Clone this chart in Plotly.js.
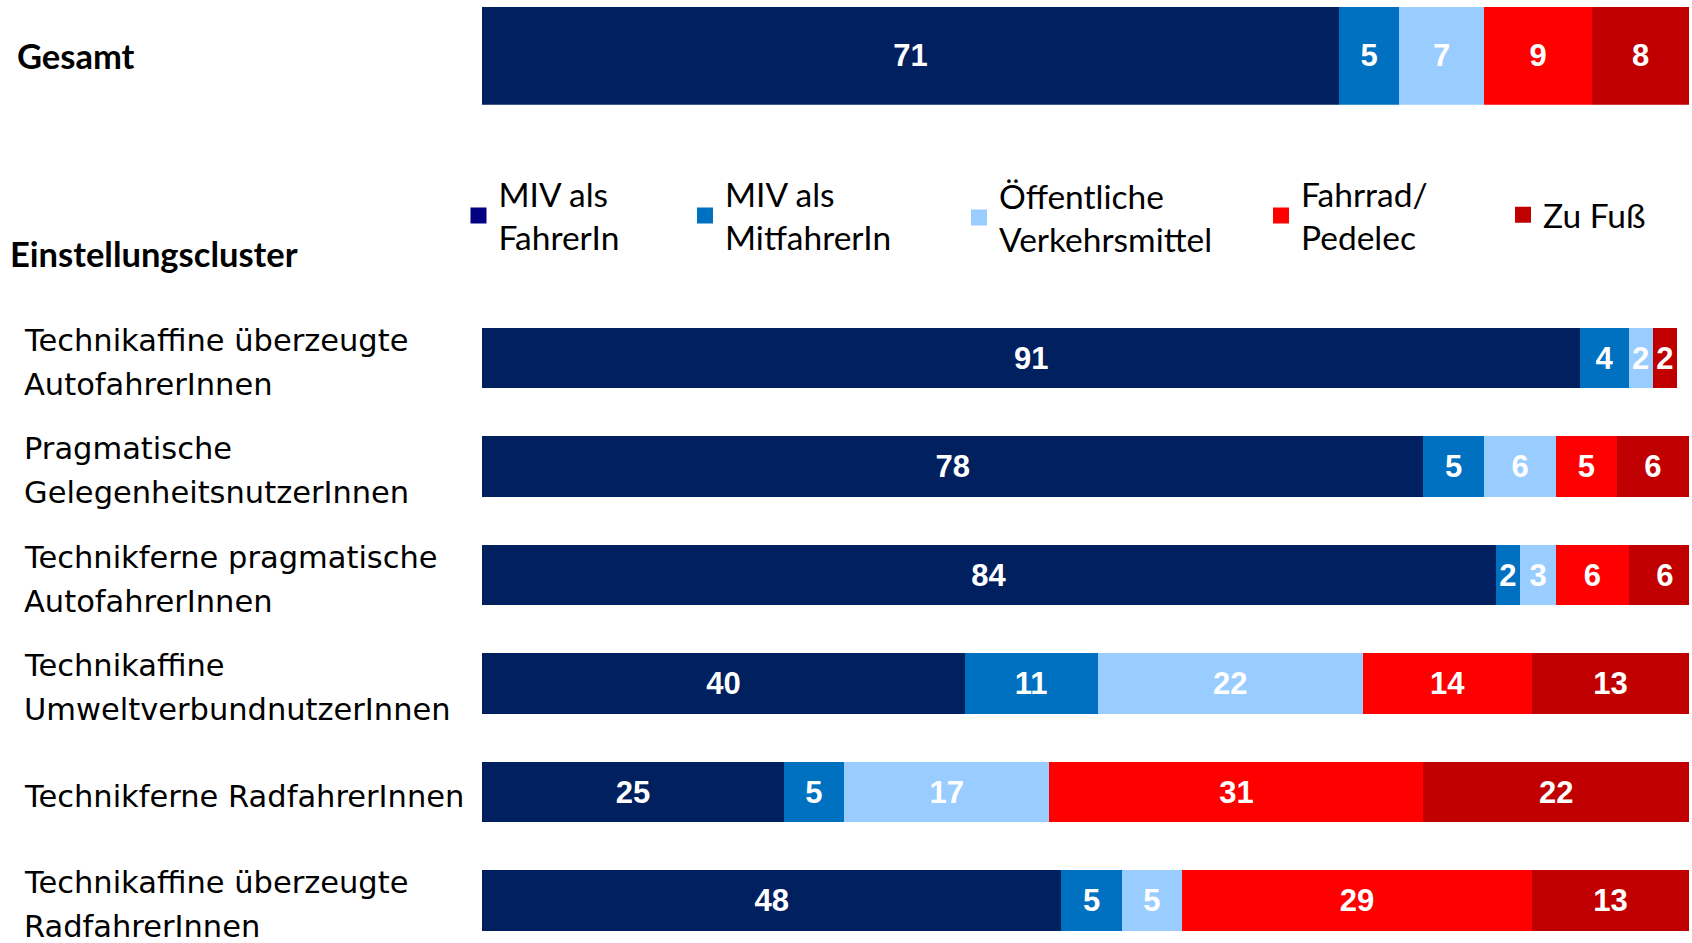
<!DOCTYPE html>
<html>
<head>
<meta charset="utf-8">
<script src="https://cdn.plot.ly/plotly-3.0.1.min.js"></script>
<style>html,body{margin:0;padding:0;background:#fff;}#chart{width:1692px;height:943px;}</style>
</head>
<body>
<div id="chart"></div>
<script>
// ---- data ----
const totalLabel = ['Gesamt'];
const clusters = [
  'Technikaffine überzeugte<br>AutofahrerInnen',
  'Pragmatische<br>GelegenheitsnutzerInnen',
  'Technikferne pragmatische<br>AutofahrerInnen',
  'Technikaffine<br>UmweltverbundnutzerInnen',
  'Technikferne RadfahrerInnen',
  'Technikaffine überzeugte<br>RadfahrerInnen'
];
const modes = ['MIV als<br>FahrerIn', 'MIV als<br>MitfahrerIn', 'Öffentliche<br>Verkehrsmittel', 'Fahrrad/<br>Pedelec', 'Zu Fuß'];
const totalMivFahrer = [71];
const totalMivMitfahrer = [5];
const totalOev = [7];
const totalRad = [9];
const totalFuss = [8];
const mivFahrer    = [91, 78, 84, 40, 25, 48];
const mivMitfahrer = [4, 5, 2, 11, 5, 5];
const oev          = [2, 6, 3, 22, 17, 5];
const rad          = [null, 5, 6, 14, 31, 29];
const fuss         = [2, 6, 6, 13, 22, 13];
const groupTitle = 'Einstellungscluster';

// ---- styles ----
const W = 1692, H = 943;
const barColors = ['#002060', '#0070C0', '#99CCFF', '#FF0000', '#C00000'];
const legendColors = ['#000080', '#0070C0', '#99CCFF', '#FF0000', '#C00000'];
const plotLeft = 482, plotRight = 1689;
const gesTop = 6.5, gesBottom = 104.7;
const rowPitch = 108.5, rowBar = 60.5, firstRowCenter = 358;
const labelFont = {family: 'DejaVu Sans', size: 30.5, color: '#000'};
const valueFont = {family: 'Liberation Sans, Arial', size: 31, color: '#fff', weight: 'bold'};
const legendFont = {family: 'Lato', size: 33.5, color: '#000'};
const boldFont = {family: 'Lato', size: 34.5, color: '#000', weight: 'bold'};
const legendTextX = [498.5, 725, 999, 1301, 1543];
const legendCenterY = [216, 216, 218, 216, 215];

const totals = [totalMivFahrer, totalMivMitfahrer, totalOev, totalRad, totalFuss];
const series = [mivFahrer, mivMitfahrer, oev, rad, fuss];

const traces = [];
const legendKeys = ['legend', 'legend2', 'legend3', 'legend4', 'legend5'];
for (let i = 0; i < 5; i++) {
  traces.push({
    type: 'bar', orientation: 'h', x: totals[i], y: totalLabel, xaxis: 'x', yaxis: 'y',
    width: 1, marker: {color: barColors[i]}, showlegend: false,
    text: totals[i].map(v => v == null ? '' : String(v)), textposition: 'inside',
    insidetextanchor: 'middle', textangle: 0, constraintext: 'none',
    insidetextfont: valueFont, hoverinfo: 'skip'
  });
  traces.push({
    type: 'bar', orientation: 'h', x: series[i], y: clusters, xaxis: 'x', yaxis: 'y2',
    width: rowBar / rowPitch, marker: {color: barColors[i]}, showlegend: false,
    text: series[i].map(v => v == null ? '' : String(v)), textposition: 'inside',
    insidetextanchor: 'middle', textangle: 0, constraintext: 'none',
    insidetextfont: valueFont, hoverinfo: 'skip'
  });
  traces.push({
    type: 'scatter', mode: 'markers', x: [null], y: [null], xaxis: 'x', yaxis: 'y2',
    name: modes[i], legend: legendKeys[i], showlegend: true,
    marker: {symbol: 'square', size: 16, color: legendColors[i]}, hoverinfo: 'skip'
  });
}

const clusterDomainTop = firstRowCenter - rowPitch / 2;
const y2RangeBottom = (H - clusterDomainTop) / rowPitch - 0.5;

const annotations = [];
annotations.push({xref: 'paper', yref: 'y', x: 15 / W, y: 0, xanchor: 'left', yanchor: 'middle',
  text: totalLabel[0], showarrow: false, font: boldFont});
annotations.push({xref: 'paper', yref: 'paper', x: 8 / W, y: 1 - 253.6 / H, xanchor: 'left', yanchor: 'middle',
  text: groupTitle, showarrow: false, font: boldFont});
clusters.forEach((c, i) => {
  const lines = c.split('<br>');
  lines.forEach((ln, k) => {
    annotations.push({xref: 'paper', yref: 'y2', x: 22 / W, y: i, xanchor: 'left', yanchor: 'middle',
      yshift: -((k - (lines.length - 1) / 2) * 44) - 4, text: ln, showarrow: false, font: labelFont});
  });
});

const layout = {
  width: W, height: H, margin: {l: 0, r: 0, t: 0, b: 0},
  paper_bgcolor: '#fff', plot_bgcolor: '#fff',
  barmode: 'stack', bargap: 0,
  xaxis: {domain: [plotLeft / W, plotRight / W], range: [0, 100], visible: false, fixedrange: true},
  yaxis: {domain: [1 - gesBottom / H, 1 - gesTop / H], type: 'category', range: [0.5, -0.5], visible: false, fixedrange: true},
  yaxis2: {domain: [0, 1 - clusterDomainTop / H], type: 'category', categoryarray: clusters, categoryorder: 'array',
           range: [y2RangeBottom, -0.5], visible: false, fixedrange: true, anchor: 'x'},
  annotations: annotations,
  showlegend: true
};
legendKeys.forEach((k, i) => {
  layout[k] = {x: (legendTextX[i] - 40) / W, xanchor: 'left', y: 1 - legendCenterY[i] / H, yanchor: 'middle',
    bgcolor: 'rgba(0,0,0,0)', borderwidth: 0, font: legendFont, valign: 'middle', itemclick: false, itemdoubleclick: false};
});

Plotly.newPlot('chart', traces, layout, {displayModeBar: false, staticPlot: true});
</script>
</body>
</html>
